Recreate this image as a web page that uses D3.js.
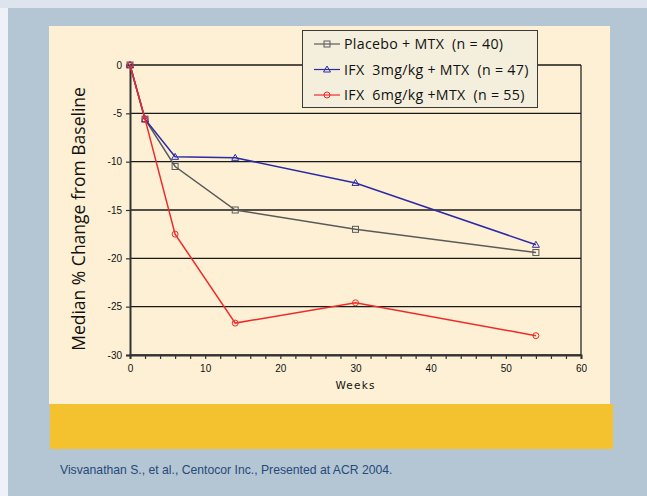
<!DOCTYPE html>
<html>
<head>
<meta charset="utf-8">
<script src="https://cdn.jsdelivr.net/npm/d3@7"></script>
<style>
  html, body { margin: 0; padding: 0; background: #eef2f8; }
  svg { display: block; }
</style>
</head>
<body>
<svg id="chart" width="647" height="496"></svg>
<script>
// Weeks at which the median change was measured
const weeks = [0, 2, 6, 14, 30, 54];
// Median % change from baseline per treatment group
const placebo = [0, -5.6, -10.5, -15.0, -17.0, -19.4];
const ifx3 = [0, -5.6, -9.5, -9.6, -12.2, -18.6];
const ifx6 = [0, -5.6, -17.5, -26.7, -24.6, -28.0];
const seriesNames = ["Placebo + MTX  (n = 40)", "IFX  3mg/kg + MTX  (n = 47)", "IFX  6mg/kg +MTX  (n = 55)"];
const xTicks = [0, 10, 20, 30, 40, 50, 60];
const yTicks = [0, -5, -10, -15, -20, -25, -30];

const series = [
  { name: seriesNames[0], values: placebo, color: "#5a5a5a", marker: "square" },
  { name: seriesNames[1], values: ifx3, color: "#2b2ba6", marker: "triangle" },
  { name: seriesNames[2], values: ifx6, color: "#ee2a2a", marker: "circle" }
];

const svg = d3.select("#chart");

// Page backdrop and panels
svg.append("rect").attr("x", 0).attr("y", 0).attr("width", 647).attr("height", 8).attr("fill", "#dde4ee");
svg.append("rect").attr("x", 8).attr("y", 8).attr("width", 639).attr("height", 488).attr("fill", "#b4c6d4");
svg.append("rect").attr("x", 49).attr("y", 26).attr("width", 561).attr("height", 378).attr("fill", "#fdf0d4");
svg.append("rect").attr("x", 50).attr("y", 404).attr("width", 563).attr("height", 45).attr("fill", "#f3c22e");
svg.append("text").attr("x", 60).attr("y", 474)
  .attr("font-family", "'Liberation Sans Narrow', 'Liberation Sans', Arial, sans-serif")
  .attr("font-size", 12.2).attr("fill", "#27497a")
  .text("Visvanathan S., et al., Centocor Inc., Presented at ACR 2004.");

const x = d3.scaleLinear().domain([0, 60]).range([130, 581]);
const y = d3.scaleLinear().domain([-30, 0]).range([355, 65]);

// Horizontal gridlines
svg.append("g").selectAll("line").data(yTicks).join("line")
  .attr("x1", x(0)).attr("x2", x(60))
  .attr("y1", d => y(d)).attr("y2", d => y(d))
  .attr("stroke", "#1a1a1a").attr("stroke-width", 1.4);

// Right frame edge
svg.append("line").attr("x1", x(60)).attr("x2", x(60)).attr("y1", y(0)).attr("y2", y(-30))
  .attr("stroke", "#1a1a1a").attr("stroke-width", 1.2);

// X axis with minor ticks every 2 weeks
const xAxis = d3.axisBottom(x).tickValues(d3.range(0, 61, 2)).tickSize(4)
  .tickFormat(d => (xTicks.includes(d) ? String(d) : ""));
const gx = svg.append("g").attr("transform", `translate(0,${y(-30)})`).call(xAxis);
gx.select(".domain").attr("stroke", "#333").attr("stroke-width", 2);
gx.selectAll(".tick line").attr("stroke", "#333").attr("stroke-width", 1.2);
gx.selectAll(".tick text").attr("font-family", "Arial, 'Liberation Sans', sans-serif")
  .attr("font-size", 10).attr("fill", "#111").attr("dy", "0.95em");

// Y axis (plain hyphen for negatives)
const yAxis = d3.axisLeft(y).tickValues(yTicks).tickSize(4).tickFormat(d => String(d));
const gy = svg.append("g").attr("transform", `translate(${x(0)},0)`).call(yAxis);
gy.select(".domain").attr("stroke", "#333").attr("stroke-width", 2);
gy.selectAll(".tick line").attr("stroke", "#333").attr("stroke-width", 1.2);
gy.selectAll(".tick text").attr("font-family", "Arial, 'Liberation Sans', sans-serif")
  .attr("font-size", 10).attr("fill", "#111").attr("x", -8);

// Axis titles
svg.append("text").attr("x", x(30)).attr("y", 389).attr("text-anchor", "middle")
  .attr("font-family", "'DejaVu Sans', sans-serif").attr("font-size", 10.5)
  .attr("letter-spacing", 1.2).attr("fill", "#111").text("Weeks");
svg.append("text").attr("transform", "translate(85,219) rotate(-90)")
  .attr("text-anchor", "middle").attr("font-family", "'Open Sans', 'Noto Sans', sans-serif")
  .attr("font-size", 17.5).attr("fill", "#111").text("Median % Change from Baseline");

// Marker drawing helper
function drawMarker(g, type, cx, cy, color) {
  if (type === "square") {
    g.append("rect").attr("x", cx - 3).attr("y", cy - 3).attr("width", 6).attr("height", 6)
      .attr("fill", "none").attr("stroke", color).attr("stroke-width", 1);
  } else if (type === "triangle") {
    g.append("path").attr("d", `M${cx},${cy - 3.5}L${cx + 3.5},${cy + 2.5}L${cx - 3.5},${cy + 2.5}Z`)
      .attr("fill", "none").attr("stroke", color).attr("stroke-width", 1);
  } else {
    g.append("circle").attr("cx", cx).attr("cy", cy).attr("r", 3)
      .attr("fill", "none").attr("stroke", color).attr("stroke-width", 1);
  }
}

// Series lines and markers
const line = d3.line().x((d, i) => x(weeks[i])).y(d => y(d));
series.forEach(s => {
  const g = svg.append("g");
  g.append("path").datum(s.values).attr("d", line)
    .attr("fill", "none").attr("stroke", s.color).attr("stroke-width", 1.5);
  s.values.forEach((v, i) => drawMarker(g, s.marker, x(weeks[i]), y(v), s.color));
});

// Legend
const lg = svg.append("g");
lg.append("rect").attr("x", 302.5).attr("y", 30.5).attr("width", 235).attr("height", 77)
  .attr("fill", "#f4efdc").attr("stroke", "#3a3a3a").attr("stroke-width", 1);
series.forEach((s, i) => {
  const ly = 44 + i * 25.5;
  lg.append("line").attr("x1", 314).attr("x2", 340).attr("y1", ly).attr("y2", ly)
    .attr("stroke", s.color).attr("stroke-width", 1.2);
  drawMarker(lg, s.marker, 327, ly, s.color);
  lg.append("text").attr("x", 344).attr("y", ly + 5)
    .attr("font-family", "'Open Sans', 'Noto Sans', sans-serif").attr("font-size", 14.2)
    .attr("letter-spacing", 0.3)
    .attr("fill", "#111").attr("xml:space", "preserve").style("white-space", "pre")
    .text(s.name);
});
</script>
</body>
</html>
